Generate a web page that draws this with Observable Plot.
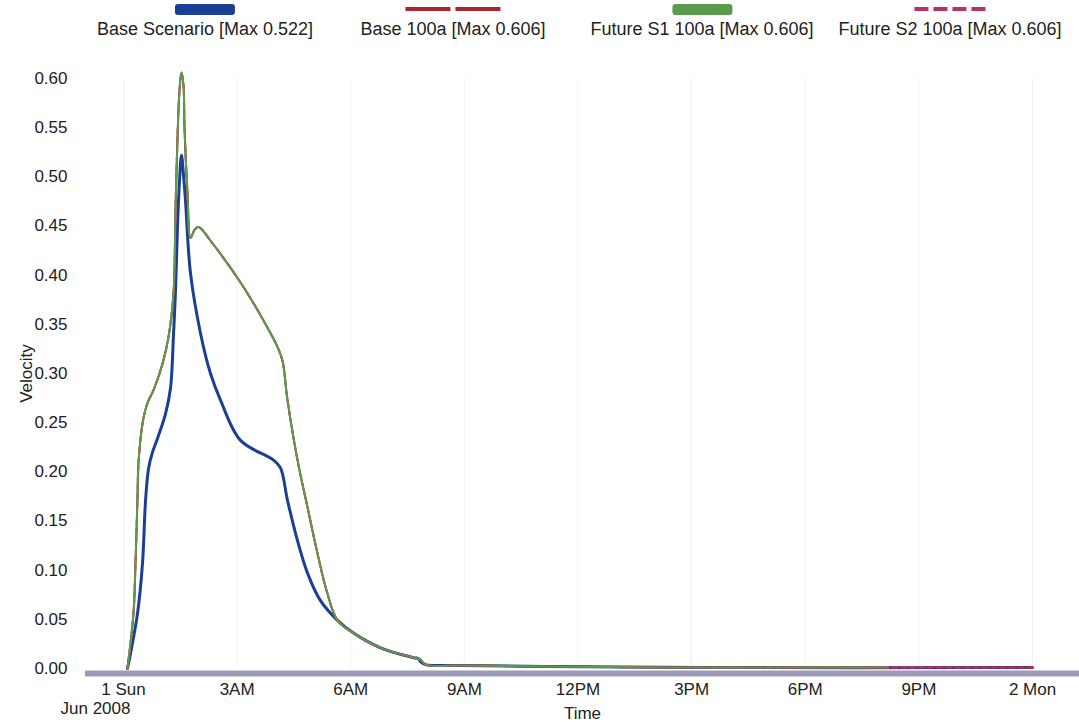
<!DOCTYPE html>
<html>
<head>
<meta charset="utf-8">
<script src="https://cdn.jsdelivr.net/npm/d3@7"></script>
<script src="https://cdn.jsdelivr.net/npm/@observablehq/plot@0.6"></script>
<style>
  html, body { margin: 0; padding: 0; background: #fff; }
  body { width: 1079px; height: 723px; overflow: hidden; font-family: "Liberation Sans", Arial, sans-serif; color: #222; }
  #legend { position: relative; width: 1079px; height: 45px; }
  .item { position: absolute; top: 0; transform: translateX(-50%); text-align: center; white-space: nowrap; }
  .sw { height: 18px; display: flex; justify-content: center; align-items: center; gap: 5px; }
  .lab { font-size: 18px; line-height: 20px; margin-top: 1px; }
</style>
</head>
<body>
<div id="legend"></div>
<div id="chart"></div>
<script>
// ---- data (hours after 1 Jun 2008 00:00, velocity) ----
const seriesNames = ["Base Scenario", "Base 100a", "Future S1 100a", "Future S2 100a"];
const seriesMax = [0.522, 0.606, 0.606, 0.606];
const seriesColors = ["#1c3f94", "#a8262c", "#5c9a4c", "#b8306a"];

const hoursBase = [0.106, 0.370, 0.502, 0.581, 0.660, 0.766, 0.898, 1.109, 1.241, 1.320, 1.373, 1.426, 1.479, 1.531, 1.584, 1.637, 1.769, 2.033, 2.297, 2.561, 3.089, 3.960, 4.145, 4.330, 4.594, 4.858, 5.201, 5.650, 6.073, 6.786, 7.657, 7.789, 7.842, 7.974, 8.898, 11.142, 15.234, 24.0];
const velBase = [0, 0.056, 0.107, 0.170, 0.203, 0.220, 0.234, 0.259, 0.285, 0.339, 0.384, 0.449, 0.496, 0.522, 0.502, 0.476, 0.402, 0.341, 0.300, 0.273, 0.232, 0.212, 0.204, 0.171, 0.130, 0.097, 0.069, 0.049, 0.036, 0.021, 0.011, 0.010, 0.007, 0.004, 0.003, 0.002, 0.001, 0.001];

const hours100 = [0.106, 0.264, 0.317, 0.370, 0.396, 0.502, 0.634, 0.792, 1.030, 1.188, 1.320, 1.373, 1.426, 1.479, 1.531, 1.584, 1.611, 1.690, 1.769, 1.875, 1.980, 2.297, 3.168, 3.881, 4.066, 4.198, 4.330, 4.594, 4.858, 5.122, 5.386, 5.650, 6.073, 6.786, 7.657, 7.842, 7.974, 8.898, 11.142, 15.234, 20.198, 24.0];
const vel100 = [0, 0.056, 0.107, 0.174, 0.209, 0.249, 0.270, 0.283, 0.310, 0.337, 0.381, 0.466, 0.540, 0.588, 0.606, 0.593, 0.550, 0.483, 0.438, 0.446, 0.449, 0.435, 0.388, 0.341, 0.327, 0.313, 0.273, 0.212, 0.164, 0.117, 0.076, 0.049, 0.036, 0.021, 0.011, 0.009, 0.004, 0.003, 0.002, 0.001, 0.001, 0.001];
const futureS1End = 20.198; // green trace stops here

const xTicks = [0, 3, 6, 9, 12, 15, 18, 21, 24];
const xTickLabels = ["1 Sun", "3AM", "6AM", "9AM", "12PM", "3PM", "6PM", "9PM", "2 Mon"];
const xSubLabel = "Jun 2008";
const yTicks = [0, 0.05, 0.10, 0.15, 0.20, 0.25, 0.30, 0.35, 0.40, 0.45, 0.50, 0.55, 0.60];

// ---- legend (HTML above the SVG) ----
const legendCenters = [205, 453, 702, 950];
const legend = document.getElementById("legend");
seriesNames.forEach((name, i) => {
  const it = document.createElement("div");
  it.className = "item";
  it.style.left = legendCenters[i] + "px";
  const sw = document.createElement("div");
  sw.className = "sw";
  const c = seriesColors[i];
  if (i === 0 || i === 2) {
    sw.innerHTML = `<div style="width:60px;height:11px;border-radius:3px;background:${c}"></div>`;
  } else if (i === 1) {
    sw.innerHTML = `<div style="width:45px;height:4px;background:${c}"></div><div style="width:45px;height:4px;background:${c}"></div>`;
  } else {
    sw.innerHTML = [0,1,2,3].map(() => `<div style="width:14px;height:4px;background:${c}"></div>`).join("");
  }
  const lab = document.createElement("div");
  lab.className = "lab";
  lab.textContent = `${name} [Max ${seriesMax[i].toFixed(3)}]`;
  it.appendChild(sw);
  it.appendChild(lab);
  legend.appendChild(it);
});

// ---- chart ----
const baseRows = hoursBase.map((h, i) => ({h, v: velBase[i]}));
const rows100 = hours100.map((h, i) => ({h, v: vel100[i]}));
const rowsS1 = rows100.filter(d => d.h <= futureS1End);
const curve = "catmull-rom";

const chart = Plot.plot({
  width: 1079,
  height: 678,
  marginLeft: 85,
  marginRight: 0,
  marginTop: 33,
  marginBottom: 55,
  style: {fontFamily: "'Liberation Sans', Arial, sans-serif", fontSize: "17px", color: "#222", background: "#fff", overflow: "visible"},
  x: {
    domain: [-1.003, 25.24],
    ticks: xTicks,
    tickFormat: d => xTickLabels[xTicks.indexOf(d)],
    tickSize: 0,
    tickPadding: 14,
    label: "Time",
    labelAnchor: "center",
    labelOffset: 50,
    labelArrow: "none"
  },
  y: {
    domain: [0, 0.6],
    ticks: yTicks,
    tickFormat: d3.format(".2f"),
    tickSize: 0,
    tickPadding: 18,
    label: "Velocity",
    labelAnchor: "center",
    labelOffset: 66,
    labelArrow: "none"
  },
  marks: [
    Plot.ruleX(xTicks, {stroke: "#f2f2f5", strokeWidth: 1}),
    Plot.ruleY([0], {stroke: "#9c9ab6", strokeWidth: 6, dy: 5}),
    Plot.line(baseRows, {x: "h", y: "v", stroke: seriesColors[0], strokeWidth: 3, curve}),
    Plot.line(rows100, {x: "h", y: "v", stroke: seriesColors[1], strokeWidth: 2, curve}),
    Plot.line(rows100, {x: "h", y: "v", stroke: seriesColors[3], strokeWidth: 2, strokeDasharray: "5,4", curve}),
    Plot.line(rowsS1, {x: "h", y: "v", stroke: seriesColors[2], strokeWidth: 2, curve}),
    Plot.text([xSubLabel], {x: () => 0, y: () => 0, text: d => d, textAnchor: "end", dx: 7, dy: 40, fontSize: 17, fill: "#222"})
  ]
});
document.getElementById("chart").appendChild(chart);
</script>
</body>
</html>
